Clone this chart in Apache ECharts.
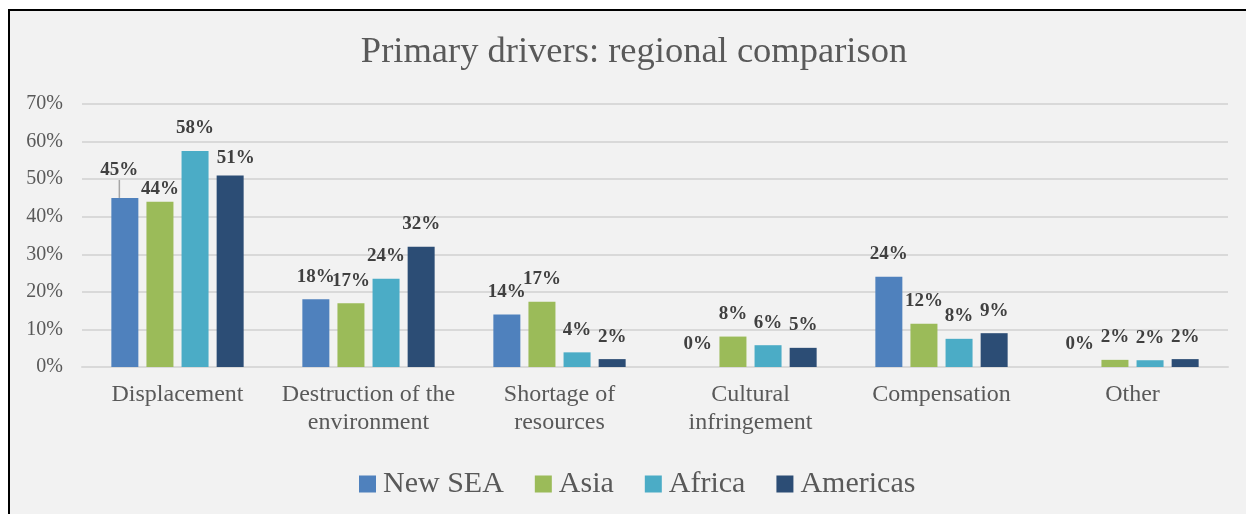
<!DOCTYPE html>
<html>
<head>
<meta charset="utf-8">
<script src="https://cdn.jsdelivr.net/npm/echarts@6/dist/echarts.min.js"></script>
<style>
html,body{margin:0;padding:0;background:#ffffff;width:1246px;height:514px;overflow:hidden;}
#frame{position:absolute;left:8px;top:9px;width:1238px;height:505px;border-left:2px solid #000;border-top:2px solid #000;background:#f2f2f2;}
#chart{position:absolute;left:0;top:0;width:1246px;height:514px;}
</style>
</head>
<body>
<div id="frame"></div>
<div id="chart"></div>
<script>
const categories = ['Displacement', 'Destruction of the\nenvironment', 'Shortage of\nresources', 'Cultural\ninfringement', 'Compensation', 'Other'];
const seriesNames = ['New SEA', 'Asia', 'Africa', 'Americas'];
const newSEA   = [45, 18, 14, 0, 24, 0];
const asia     = [44, 17, 17.4, 8.1, 11.5, 1.9];
const africa   = [57.5, 23.5, 3.9, 5.8, 7.5, 1.8];
const americas = [51, 32, 2.1, 5.1, 9, 2.1];
const yTicks = [0, 10, 20, 30, 40, 50, 60, 70];
const colors = ['#4f81bd', '#9bbb59', '#4bacc6', '#2c4d75'];

const allValues = [newSEA, asia, africa, americas];
const serif = '"Liberation Serif", "DejaVu Serif", serif';

// manual label nudges mimicking Excel's placement
const nudges = { '0-0': [-5.5, -5], '1-0': [0, 10], '3-0': [5.5, 5] };

const series = allValues.map((vals, si) => ({
  name: seriesNames[si],
  type: 'bar',
  barWidth: 27,
  barGap: '30%',
  itemStyle: { color: colors[si] },
  label: {
    show: true,
    position: 'top',
    distance: 13,
    fontFamily: serif,
    fontWeight: 'bold',
    fontSize: 19,
    color: '#404040',
    formatter: p => Math.round(p.value) + '%'
  },
  labelLine: { show: false, lineStyle: { color: '#a6a6a6', width: 1.5 } },
  labelLayout: p => {
    const n = nudges[si + '-' + p.dataIndex];
    return n ? { dx: n[0], dy: n[1] } : {};
  },
  data: vals.map((v, di) => (si === 0 && di === 0)
    ? { value: v, labelLine: { show: true, lineStyle: { color: '#a6a6a6', width: 1.5 } } }
    : v)
}));

const chart = echarts.init(document.getElementById('chart'), null, { renderer: 'canvas' });
chart.setOption({
  backgroundColor: 'transparent',
  animation: false,
  title: {
    text: 'Primary drivers: regional comparison',
    left: 629,
    textAlign: 'center',
    top: 29,
    textStyle: { fontFamily: serif, fontWeight: 'normal', fontSize: 36.5, color: '#595959' }
  },
  legend: {
    data: seriesNames,
    left: 354,
    top: 464,
    itemWidth: 17,
    itemHeight: 17,
    itemGap: 31,
    icon: 'rect',
    textStyle: { fontFamily: serif, fontSize: 30, color: '#595959', padding: [0, 0, 0, 2] }
  },
  grid: { left: 82, right: 18, top: 104, bottom: 147, containLabel: false },
  xAxis: {
    type: 'category',
    data: categories,
    axisLine: { show: true, lineStyle: { color: '#d9d9d9', width: 2 } },
    axisTick: { show: false },
    axisLabel: {
      interval: 0,
      margin: 14,
      fontFamily: serif,
      fontSize: 24,
      lineHeight: 28,
      color: '#595959'
    }
  },
  yAxis: {
    type: 'value',
    min: yTicks[0],
    max: yTicks[yTicks.length - 1],
    interval: yTicks[1] - yTicks[0],
    axisLine: { show: false },
    axisTick: { show: false },
    splitLine: { lineStyle: { color: '#d9d9d9', width: 2 } },
    axisLabel: {
      margin: 19,
      fontFamily: serif,
      fontSize: 20,
      color: '#595959',
      formatter: '{value}%'
    }
  },
  series: series
});
</script>
</body>
</html>
